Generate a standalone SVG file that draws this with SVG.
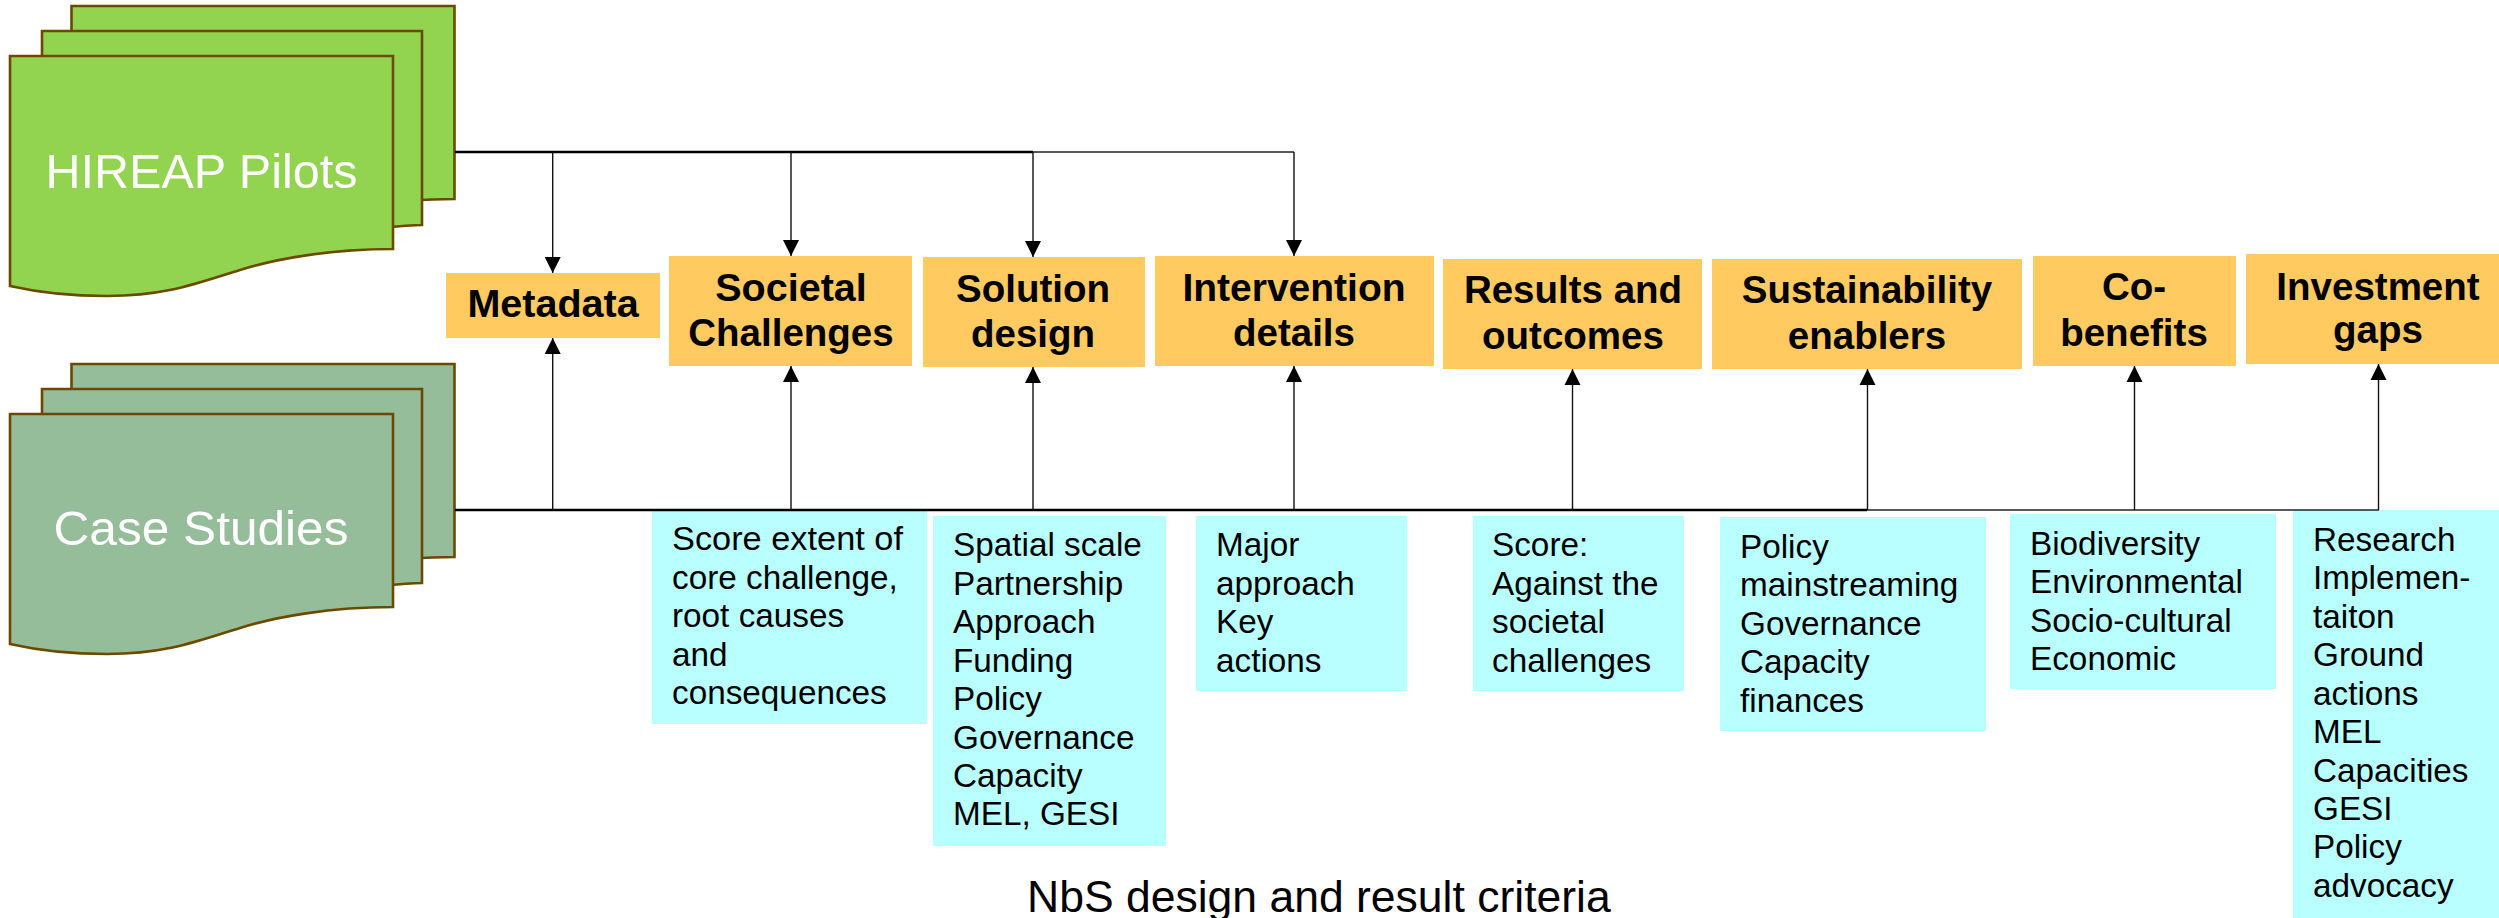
<svg xmlns="http://www.w3.org/2000/svg" xmlns:xlink="http://www.w3.org/1999/xlink" width="2499" height="918" viewBox="0 0 2499 918">
<style>
text{font-family:"Liberation Sans",Arial,sans-serif}
.sheet{stroke:#6B4A00;stroke-width:2.6}
.g1{fill:#92D350}
.g2{fill:#95BD9A}
.src{fill:#fff;font-size:49px;text-anchor:middle}
.hd{fill:#FFCA5F}
.ht{fill:#000;font-size:38.5px;font-weight:bold;text-anchor:middle}
.bx{fill:#B9FFFF}
.bt{fill:#000;font-size:33.3px}
.cap{fill:#000;font-size:44.5px}
.bus{fill:none;stroke:#000;stroke-width:2.4}
.bus2{fill:none;stroke:#222;stroke-width:1.5}
.arr{fill:none;stroke:#111;stroke-width:1.4;marker-end:url(#ah)}
</style>
<defs>
<marker id="ah" markerUnits="userSpaceOnUse" markerWidth="16" markerHeight="17" viewBox="0 0 16 17" refX="16" refY="8.5" orient="auto"><path d="M0 0.5L16 8.5L0 16.5Z" fill="#000"/></marker>
<path id="doc" d="M10 56H393V249C330 249 275 259 240 270C195 284 165 296 107 296C75 296 45 294 10 286Z"/>
<path id="doc2" d="M42 31H422V225C410 225 400 226 380 228C300 240 200 290 100 290L42 280Z"/>
</defs>
<g id="node-hireap">
<use xlink:href="#doc" href="#doc" class="sheet g1" transform="translate(61.5 -50)"/>
<use xlink:href="#doc2" href="#doc2" class="sheet g1"/>
<use xlink:href="#doc" href="#doc" class="sheet g1"/>
<text class="src" x="201.5" y="188" textLength="312" lengthAdjust="spacingAndGlyphs">HIREAP Pilots</text>
</g>
<g id="node-case">
<use xlink:href="#doc" href="#doc" class="sheet g2" transform="translate(61.5 308)"/>
<use xlink:href="#doc2" href="#doc2" class="sheet g2" transform="translate(0 358)"/>
<use xlink:href="#doc" href="#doc" class="sheet g2" transform="translate(0 358)"/>
<text class="src" x="201" y="545" textLength="295" lengthAdjust="spacingAndGlyphs">Case Studies</text>
</g>
<g id="node-details-challenges"><rect class="bx" x="652" y="510" width="275" height="214"/>
<text class="bt"><tspan x="672" y="550" textLength="231" lengthAdjust="spacingAndGlyphs">Score extent of</tspan><tspan x="672" y="589">core challenge,</tspan><tspan x="672" y="627">root causes</tspan><tspan x="672" y="666">and</tspan><tspan x="672" y="704">consequences</tspan></text></g>
<g id="node-details-solution"><rect class="bx" x="933" y="516" width="233" height="330"/>
<text class="bt"><tspan x="953" y="556">Spatial scale</tspan><tspan x="953" y="595">Partnership</tspan><tspan x="953" y="633">Approach</tspan><tspan x="953" y="672">Funding</tspan><tspan x="953" y="710">Policy</tspan><tspan x="953" y="749">Governance</tspan><tspan x="953" y="787">Capacity</tspan><tspan x="953" y="825">MEL, GESI</tspan></text></g>
<g id="node-details-intervention"><rect class="bx" x="1196" y="516" width="211" height="175"/>
<text class="bt"><tspan x="1216" y="556">Major</tspan><tspan x="1216" y="595">approach</tspan><tspan x="1216" y="633">Key</tspan><tspan x="1216" y="672">actions</tspan></text></g>
<g id="node-details-results"><rect class="bx" x="1473" y="516" width="211" height="175"/>
<text class="bt"><tspan x="1492" y="556">Score:</tspan><tspan x="1492" y="595">Against the</tspan><tspan x="1492" y="633">societal</tspan><tspan x="1492" y="672">challenges</tspan></text></g>
<g id="node-details-sustainability"><rect class="bx" x="1720" y="517" width="266" height="214"/>
<text class="bt"><tspan x="1740" y="558">Policy</tspan><tspan x="1740" y="596">mainstreaming</tspan><tspan x="1740" y="635">Governance</tspan><tspan x="1740" y="673">Capacity</tspan><tspan x="1740" y="712">finances</tspan></text></g>
<g id="node-details-cobenefits"><rect class="bx" x="2010" y="514" width="266" height="175"/>
<text class="bt"><tspan x="2030" y="555">Biodiversity</tspan><tspan x="2030" y="593">Environmental</tspan><tspan x="2030" y="632">Socio-cultural</tspan><tspan x="2030" y="670">Economic</tspan></text></g>
<g id="node-details-investment"><rect class="bx" x="2293" y="510" width="206" height="408"/>
<text class="bt"><tspan x="2313" y="551">Research</tspan><tspan x="2313" y="589">Implemen-</tspan><tspan x="2313" y="628">taiton</tspan><tspan x="2313" y="666">Ground</tspan><tspan x="2313" y="705">actions</tspan><tspan x="2313" y="743">MEL</tspan><tspan x="2313" y="782">Capacities</tspan><tspan x="2313" y="820">GESI</tspan><tspan x="2313" y="858">Policy</tspan><tspan x="2313" y="897">advocacy</tspan></text></g>
<g id="connectors">
<path class="bus" d="M455 152H1033"/>
<path class="bus2" d="M1033 152H1294"/>
<path class="bus" d="M455 510H1867"/>
<path class="bus2" d="M1867 510H2379"/>
<path class="arr" d="M552.7 152V273"/>
<path class="arr" d="M791 152V256"/>
<path class="arr" d="M1033 152V257"/>
<path class="arr" d="M1294 152V256"/>
<path class="arr" d="M552.7 510V338"/>
<path class="arr" d="M791 510V366"/>
<path class="arr" d="M1033 510V367"/>
<path class="arr" d="M1294 510V366"/>
<path class="arr" d="M1572.5 510V369"/>
<path class="arr" d="M1867.5 510V369"/>
<path class="arr" d="M2134.5 510V366"/>
<path class="arr" d="M2378.5 510V364"/>
</g>
<g id="node-metadata"><rect class="hd" x="446" y="273" width="214" height="65"/><text class="ht" x="553" y="317" style="font-size:39.5px">Metadata</text></g>
<g id="node-societal"><rect class="hd" x="669" y="256" width="243" height="110"/><text class="ht"><tspan x="791" y="301" style="font-size:39.5px">Societal</tspan><tspan x="791" y="346">Challenges</tspan></text></g>
<g id="node-solution"><rect class="hd" x="923" y="257" width="222" height="110"/><text class="ht"><tspan x="1033" y="302">Solution</tspan><tspan x="1033" y="347">design</tspan></text></g>
<g id="node-intervention"><rect class="hd" x="1155" y="256" width="279" height="110"/><text class="ht"><tspan x="1294" y="301" style="font-size:39px">Intervention</tspan><tspan x="1294" y="346">details</tspan></text></g>
<g id="node-results"><rect class="hd" x="1443" y="259" width="259" height="110"/><text class="ht"><tspan x="1573" y="303">Results and</tspan><tspan x="1573" y="349">outcomes</tspan></text></g>
<g id="node-sustainability"><rect class="hd" x="1712" y="259" width="310" height="110"/><text class="ht"><tspan x="1867" y="303">Sustainability</tspan><tspan x="1867" y="349">enablers</tspan></text></g>
<g id="node-cobenefits"><rect class="hd" x="2033" y="256" width="203" height="110"/><text class="ht"><tspan x="2134" y="300">Co-</tspan><tspan x="2134" y="346">benefits</tspan></text></g>
<g id="node-investment"><rect class="hd" x="2246" y="254" width="253" height="110"/><text class="ht"><tspan x="2378" y="300">Investment</tspan><tspan x="2378" y="343">gaps</tspan></text></g>
<text class="cap" x="1027" y="912">NbS design and result criteria</text>
</svg>
